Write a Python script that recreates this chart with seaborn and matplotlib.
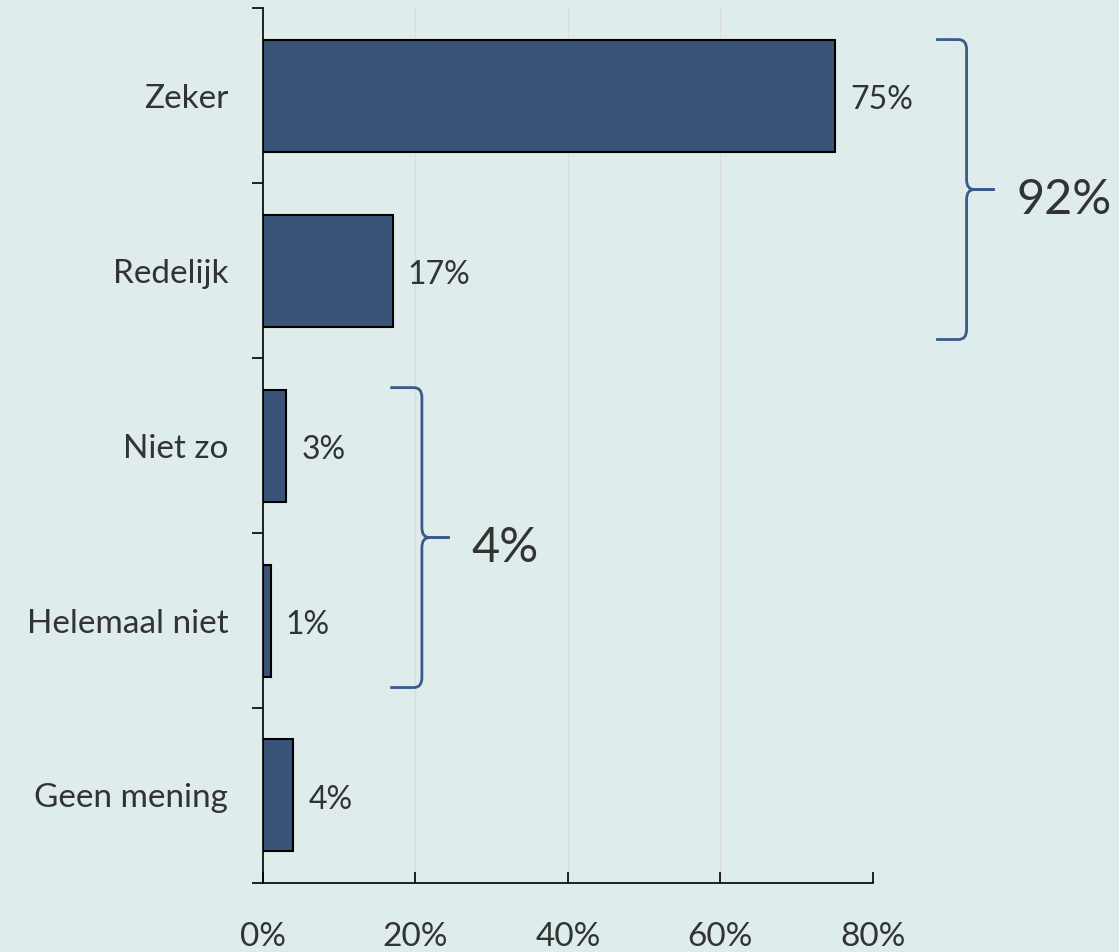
import numpy as np
import pandas as pd
import matplotlib
matplotlib.use("Agg")
import matplotlib.pyplot as plt
from matplotlib.path import Path
from matplotlib.patches import PathPatch
import seaborn as sns

# ----------------------------------
# Data
# ----------------------------------

categories = ["Zeker", "Redelijk", "Niet zo", "Helemaal niet", "Geen mening"]
values = [75, 17, 3, 1, 4]
value_labels = ["75%", "17%", "3%", "1%", "4%"]
x_ticks = [0, 20, 40, 60, 80]
x_tick_labels = ["0%", "20%", "40%", "60%", "80%"]

group_labels = ["92%", "4%"]
group_spans = [(-0.32, 1.394), (1.669, 3.383)]

df = pd.DataFrame({"Categorie": categories, "Waarde": values})

# ----------------------------------
# Style
# ----------------------------------

bg = "#DEECEC"
bar_color = "#3A5378"
brace_color = "#3B5A8A"
text_color = "#333333"

sns.set_style("white")
plt.rcParams["font.family"] = ["Lato", "DejaVu Sans"]

fig = plt.figure(figsize=(11.19, 9.52), dpi=100)
fig.patch.set_facecolor(bg)
ax = fig.add_axes([0.235, 0.0725, 0.545, 0.919])
ax.set_facecolor(bg)

# ----------------------------------
# Bars
# ----------------------------------

sns.barplot(
    data=df,
    x="Waarde",
    y="Categorie",
    orient="h",
    color=bar_color,
    saturation=1,
    edgecolor="black",
    linewidth=1.5,
    width=0.64,
    ax=ax,
    zorder=3
)

# value labels, nudged a little below bar centre like the original
for i, (v, lab) in enumerate(zip(values, value_labels)):
    ax.annotate(lab, (v, i), xytext=(11, -3), textcoords="offset points",
                ha="left", va="center", fontsize=23, color=text_color)

# ----------------------------------
# Axes
# ----------------------------------

ax.set_xlim(0, 80)
ax.set_ylim(4.5, -0.5)
ax.set_xlabel("")
ax.set_ylabel("")

ax.set_xticks(x_ticks)
ax.set_xticklabels(x_tick_labels, fontsize=24, color=text_color)
ax.tick_params(axis="x", bottom=True, direction="in", length=8, width=1.2,
               pad=28, colors="black", labelcolor=text_color)

ax.set_yticks(range(len(categories)))
ax.set_yticklabels(categories, fontsize=24, color=text_color)
ax.set_yticks(np.arange(-0.5, 5, 1), minor=True)
ax.tick_params(axis="y", which="major", left=True, length=0, pad=25)
ax.tick_params(axis="y", which="minor", left=True, direction="out",
               length=8, width=1.2, colors="black")

ax.grid(axis="x", color="#DCDCDC", linewidth=1, zorder=0)
ax.grid(axis="y", visible=False)

for side in ["top", "right"]:
    ax.spines[side].set_visible(False)
for side in ["left", "bottom"]:
    ax.spines[side].set_color("black")
    ax.spines[side].set_linewidth(1.2)
    ax.spines[side].set_zorder(4)

# ----------------------------------
# Braces
# ----------------------------------


def brace(ax, x0, x1, xt, y0, y1, rx=1.05, ry=0.057, dx=1.0):
    ym = (y0 + y1) / 2
    for ya, sgn in [(y0, 1), (y1, -1)]:
        verts = [
            (x0, ya),
            (x1 - rx, ya),
            (x1, ya), (x1, ya + sgn * ry),
            (x1, ym - sgn * ry),
            (x1, ym), (x1 + dx, ym),
            (xt, ym),
        ]
        codes = [Path.MOVETO, Path.LINETO, Path.CURVE3, Path.CURVE3,
                 Path.LINETO, Path.CURVE3, Path.CURVE3, Path.LINETO]
        patch = PathPatch(Path(verts, codes), facecolor="none",
                          edgecolor=brace_color, linewidth=2,
                          clip_on=False, zorder=5)
        ax.add_patch(patch)
    return ym


ym = brace(ax, 88.3, 92.3, 96.0, *group_spans[0])
ax.text(98.9, ym + 0.06, group_labels[0], fontsize=35, color=text_color,
        ha="left", va="center", clip_on=False)

ym = brace(ax, 16.7, 20.85, 24.5, *group_spans[1])
ax.text(27.4, ym + 0.06, group_labels[1], fontsize=35, color=text_color,
        ha="left", va="center", clip_on=False)

fig.savefig("out.png", dpi=100, facecolor=bg)
plt.close()
